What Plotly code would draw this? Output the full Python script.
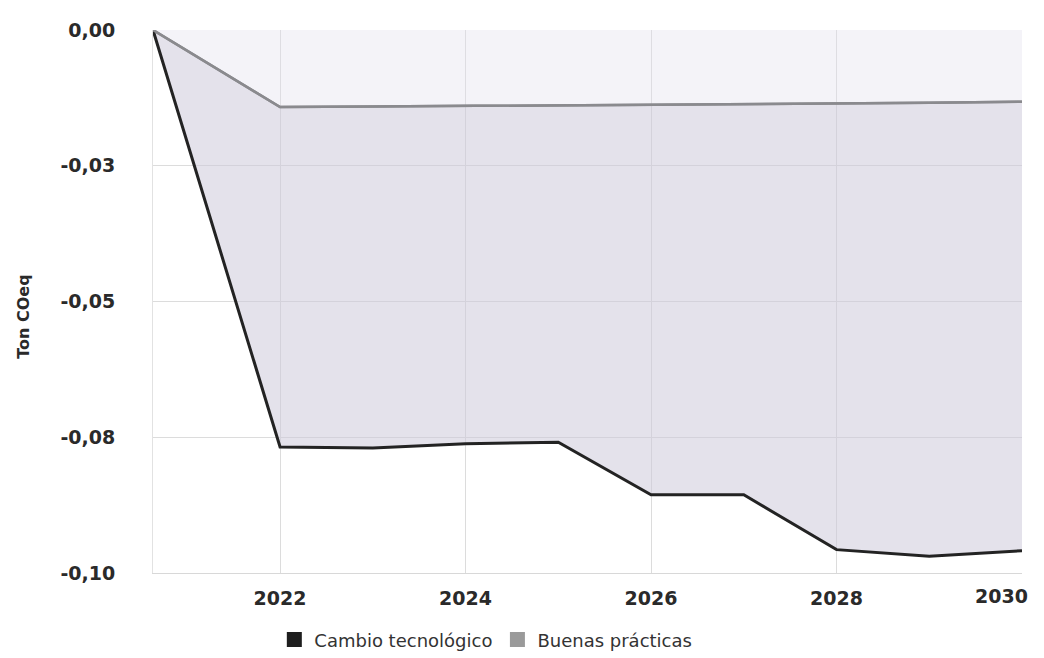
import plotly.graph_objects as go

# Data
years = [2020.63, 2022, 2023, 2024, 2025, 2026, 2027, 2028, 2029, 2030]
cambio_tecnologico = [0.0, -0.0768, -0.0770, -0.0762, -0.0759, -0.0856, -0.0856, -0.0957, -0.0969, -0.0959]
buenas_practicas = [0.0, -0.0142, -0.0141, -0.0140, -0.0139, -0.0138, -0.0137, -0.0136, -0.0134, -0.0132]

y_tickvals = [0, -0.025, -0.05, -0.075, -0.1]
y_ticktext = ["0,00", "-0,03", "-0,05", "-0,08", "-0,10"]
x_tickvals = [2022, 2024, 2026, 2028, 2030]
x_ticktext = ["2022", "2024", "2026", "2028", "2030"]

series_names = ["Cambio tecnológico", "Buenas prácticas"]
y_title = "Ton COeq"

font_family = "'DejaVu Sans', sans-serif"

fig = go.Figure()

# area between 0 and the "buenas prácticas" line
fig.add_trace(go.Scatter(
    x=years, y=buenas_practicas, mode="lines",
    line=dict(color="#8a8a8e", width=2.5),
    fill="tozeroy", fillcolor="rgba(226,223,236,0.38)",
    showlegend=False, hoverinfo="skip"))

# area between the two lines
fig.add_trace(go.Scatter(
    x=years, y=cambio_tecnologico, mode="lines",
    line=dict(color="#232323", width=3),
    fill="tonexty", fillcolor="rgba(205,202,218,0.55)",
    showlegend=False, hoverinfo="skip"))

# redraw top line above the fill
fig.add_trace(go.Scatter(
    x=years, y=buenas_practicas, mode="lines",
    line=dict(color="#8a8a8e", width=2.5),
    showlegend=False, hoverinfo="skip"))

# legend entries
for name, col in zip(series_names, ["#1e1e1e", "#9a9a9a"]):
    fig.add_trace(go.Scatter(
        x=[None], y=[None], mode="markers", name=name,
        marker=dict(symbol="square", size=15, color=col)))

fig.update_layout(
    width=1044, height=658,
    margin=dict(l=145, r=30, t=22, b=93, autoexpand=False),
    paper_bgcolor="white", plot_bgcolor="white",
    font=dict(family=font_family, color="#2a2a2a"),
    legend=dict(orientation="h", x=0.383, xanchor="center", y=-0.123, yanchor="middle",
                traceorder="normal",
                font=dict(size=18, color="#333333", family=font_family),
                itemwidth=30, tracegroupgap=0),
    showlegend=True,
)

fig.update_xaxes(
    range=[years[0], years[-1]],
    tickvals=x_tickvals, ticktext=x_ticktext[:-1] + [""],
    tickfont=dict(size=19, color="#2a2a2a", weight="bold"),
    showgrid=True, gridcolor="#dcdcdc", gridwidth=1,
    showline=True, linecolor="#d8d8d8", linewidth=1,
    zeroline=False, ticks="", ticklabelstandoff=8, automargin=False,
)
# last tick label kept inside the figure edge, as in the reference
fig.add_annotation(
    x=x_tickvals[-1], xref="x", y=0, yref="paper", yanchor="top", xanchor="right",
    xshift=8, yshift=-10, text=x_ticktext[-1], showarrow=False,
    font=dict(size=19, color="#2a2a2a", weight="bold", family=font_family))

fig.update_yaxes(
    range=[-0.1, 0],
    tickvals=y_tickvals, ticktext=y_ticktext,
    tickfont=dict(size=19, color="#2a2a2a", weight="bold"),
    showgrid=True, gridcolor="#dcdcdc", gridwidth=1,
    showline=True, linecolor="#e2e2e2", linewidth=1,
    zeroline=False, ticks="", ticklabelstandoff=33, automargin=False,
)
fig.add_annotation(
    x=-0.149, xref="paper", y=0.471, yref="paper", textangle=-90,
    xanchor="center", yanchor="middle", text=y_title, showarrow=False,
    font=dict(size=16, color="#2a2a2a", weight="bold", family=font_family))

fig.write_html("out.html")
